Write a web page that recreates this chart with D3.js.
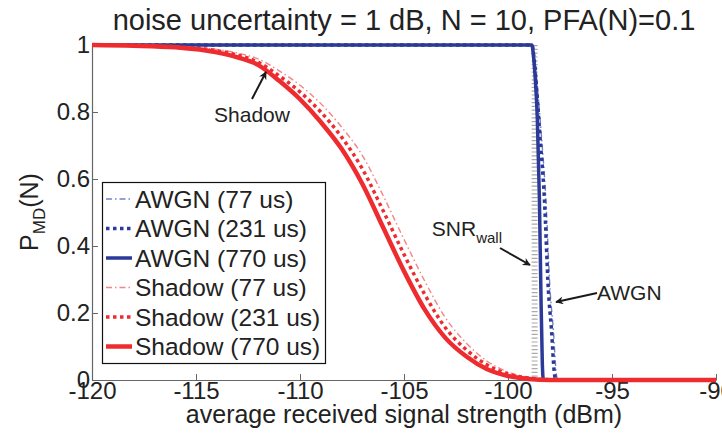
<!DOCTYPE html>
<html>
<head>
<meta charset="utf-8">
<script src="https://cdn.jsdelivr.net/npm/d3@7"></script>
<style>
  body { margin: 0; background: #fff; }
  svg { display: block; font-family: "Liberation Sans", Arial, Helvetica, sans-serif; }
</style>
</head>
<body>
<svg></svg>
<script>
'use strict';

// x values in dBm, y values are P_MD(N)
var shadowX = [-120, -118, -116, -114, -113, -112, -111, -110, -109, -108, -107, -106, -105, -104, -103, -102, -101, -100, -99, -98, -90];
var shadow770Y = [1, 0.998, 0.993, 0.978, 0.963, 0.94, 0.893, 0.838, 0.77, 0.69, 0.585, 0.455, 0.325, 0.21, 0.125, 0.07, 0.032, 0.012, 0.003, 0, 0];
var shadow231Y = [1, 0.999, 0.995, 0.983, 0.97, 0.948, 0.908, 0.86, 0.80, 0.725, 0.63, 0.505, 0.375, 0.255, 0.155, 0.09, 0.045, 0.018, 0.006, 0.001, 0];
var shadow77Y = [1, 0.999, 0.996, 0.987, 0.976, 0.958, 0.923, 0.88, 0.825, 0.755, 0.67, 0.55, 0.42, 0.295, 0.185, 0.11, 0.056, 0.024, 0.008, 0.002, 0];

var awgn770X = [-120, -98.85, -98.78, -98.69, -98.59, -98.49, -98.42, -98.35, -98.3, -90];
var awgn770Y = [1, 1, 0.97, 0.9, 0.78, 0.54, 0.27, 0.05, 0, 0];
var awgn231X = [-120, -98.85, -98.75, -98.6, -98.49, -98.25, -98.06, -97.91, -97.77, -97.7, -90];
var awgn231Y = [1, 1, 0.96, 0.85, 0.75, 0.54, 0.27, 0.15, 0.02, 0, 0];
var awgn77X = [-120, -98.85, -98.72, -98.55, -98.42, -98.18, -97.98, -97.82, -97.68, -97.6, -90];
var awgn77Y = [1, 1, 0.96, 0.85, 0.75, 0.54, 0.27, 0.15, 0.02, 0, 0];

var snrWall = -98.72;

var xTicks = [-120, -115, -110, -105, -100, -95, -90];
var yTicks = [0, 0.2, 0.4, 0.6, 0.8, 1];

var legendLabels = ['AWGN (77 us)', 'AWGN (231 us)', 'AWGN (770 us)', 'Shadow (77 us)', 'Shadow (231 us)', 'Shadow (770 us)'];

var width = 722;
var height = 438;
var margin = {left: 92, right: 6, top: 45, bottom: 58};

var blue = '#2b3a98';
var lightBlue = '#7580c8';
var red = '#ee2c30';
var lightRed = '#f28585';

// line styles, same order as the legend
var styles = [
  {color: lightBlue, width: 1.4, dash: '6,3,1.5,3'},
  {color: blue, width: 3.5, dash: '3.5,3.5'},
  {color: blue, width: 3.5, dash: null},
  {color: lightRed, width: 1.4, dash: '6,3,1.5,3'},
  {color: red, width: 3.5, dash: '3.5,3.5'},
  {color: red, width: 4.5, dash: null}
];

var series = [
  d3.zip(awgn77X, awgn77Y),
  d3.zip(awgn231X, awgn231Y),
  d3.zip(awgn770X, awgn770Y),
  d3.zip(shadowX, shadow77Y),
  d3.zip(shadowX, shadow231Y),
  d3.zip(shadowX, shadow770Y)
];

var svg = d3.select('svg')
  .attr('width', width)
  .attr('height', height);

var x = d3.scaleLinear().domain([-120, -90]).range([margin.left, width - margin.right]);
var y = d3.scaleLinear().domain([0, 1]).range([height - margin.bottom, margin.top]);

// title
svg.append('text')
  .attr('x', 404)
  .attr('y', 30)
  .attr('text-anchor', 'middle')
  .attr('font-size', 29)
  .attr('fill', '#222')
  .text('noise uncertainty = 1 dB, N = 10, PFA(N)=0.1');

// axes
var xAxis = svg.append('g')
  .attr('transform', 'translate(0,' + y(0) + ')')
  .call(d3.axisBottom(x).tickValues(xTicks).tickSizeInner(-6).tickSizeOuter(0).tickPadding(2).tickFormat(d3.format('d')));
var yAxis = svg.append('g')
  .attr('transform', 'translate(' + x(-120) + ',0)')
  .call(d3.axisLeft(y).tickValues(yTicks).tickSizeInner(-6).tickSizeOuter(0).tickPadding(2).tickFormat(function(d) { return d === 0 || d === 1 ? d : d.toFixed(1); }));

[xAxis, yAxis].forEach(function(g) {
  g.select('.domain').attr('stroke', '#666').attr('stroke-width', 1.2);
  g.selectAll('.tick line').attr('stroke', '#666');
  g.selectAll('.tick text').attr('font-size', 24).attr('fill', '#222').attr('font-family', null);
});
xAxis.selectAll('.tick text').text(function(d) { return String(d).replace('\u2212', '-'); });

// axis labels
svg.append('text')
  .attr('x', 404)
  .attr('y', 423)
  .attr('text-anchor', 'middle')
  .attr('font-size', 25)
  .attr('fill', '#222')
  .text('average received signal strength (dBm)');

var yl = svg.append('text')
  .attr('transform', 'translate(38,212) rotate(-90)')
  .attr('text-anchor', 'middle')
  .attr('font-size', 25)
  .attr('fill', '#222');
yl.append('tspan').text('P');
yl.append('tspan').attr('font-size', 17).attr('dy', 7).text('MD');
yl.append('tspan').attr('dy', -7).text('(N)');

// SNR wall marker
svg.append('line')
  .attr('x1', x(snrWall)).attr('x2', x(snrWall))
  .attr('y1', y(1)).attr('y2', y(0))
  .attr('stroke', '#aaa')
  .attr('stroke-width', 6)
  .attr('stroke-dasharray', '1.2,2.6');

// curves
var line = d3.line()
  .x(function(d) { return x(d[0]); })
  .y(function(d) { return y(d[1]); })
  .curve(d3.curveMonotoneX);

svg.append('g').selectAll('path')
  .data(series)
  .enter().append('path')
  .attr('d', line)
  .attr('fill', 'none')
  .attr('stroke', function(d, i) { return styles[i].color; })
  .attr('stroke-width', function(d, i) { return styles[i].width; })
  .attr('stroke-dasharray', function(d, i) { return styles[i].dash; });

// arrows
svg.append('defs').append('marker')
  .attr('id', 'head')
  .attr('viewBox', '0 0 10 10')
  .attr('refX', 9).attr('refY', 5)
  .attr('markerWidth', 6).attr('markerHeight', 4)
  .attr('markerUnits', 'strokeWidth')
  .attr('orient', 'auto')
  .append('path')
  .attr('d', 'M0,0L10,5L0,10L3,5Z')
  .attr('fill', '#1a1a1a');

var arrows = [
  {x1: 252, y1: 99, x2: 266, y2: 72},
  {x1: 500, y1: 248, x2: 530, y2: 265},
  {x1: 597, y1: 293, x2: 556, y2: 302}
];
svg.append('g').selectAll('line')
  .data(arrows)
  .enter().append('line')
  .attr('x1', function(d) { return d.x1; })
  .attr('y1', function(d) { return d.y1; })
  .attr('x2', function(d) { return d.x2; })
  .attr('y2', function(d) { return d.y2; })
  .attr('stroke', '#1a1a1a')
  .attr('stroke-width', 2)
  .attr('marker-end', 'url(#head)');

svg.append('text')
  .attr('x', 252).attr('y', 122)
  .attr('text-anchor', 'middle')
  .attr('font-size', 21)
  .attr('fill', '#222')
  .text('Shadow');

svg.append('text')
  .attr('x', 597).attr('y', 300)
  .attr('font-size', 21)
  .attr('fill', '#222')
  .text('AWGN');

var snr = svg.append('text')
  .attr('x', 502).attr('y', 236)
  .attr('text-anchor', 'end')
  .attr('font-size', 21)
  .attr('fill', '#222');
snr.append('tspan').text('SNR');
snr.append('tspan').attr('font-size', 15).attr('dy', 7).text('wall');

// legend
var legend = svg.append('g');
legend.append('rect')
  .attr('x', 102.5).attr('y', 182.5)
  .attr('width', 223).attr('height', 181)
  .attr('fill', '#fff')
  .attr('stroke', '#111')
  .attr('stroke-width', 1.2);

var rows = legend.selectAll('g.row')
  .data(legendLabels)
  .enter().append('g')
  .attr('class', 'row')
  .attr('transform', function(d, i) { return 'translate(0,' + (199 + i * 29.5) + ')'; });

rows.append('line')
  .attr('x1', 106).attr('x2', 132)
  .attr('stroke', function(d, i) { return styles[i].color; })
  .attr('stroke-width', function(d, i) { return styles[i].width; })
  .attr('stroke-dasharray', function(d, i) { return styles[i].dash; });

rows.append('text')
  .attr('x', 135)
  .attr('dy', '0.36em')
  .attr('font-size', 24.5)
  .attr('fill', '#222')
  .text(function(d) { return d; });
</script>
</body>
</html>
